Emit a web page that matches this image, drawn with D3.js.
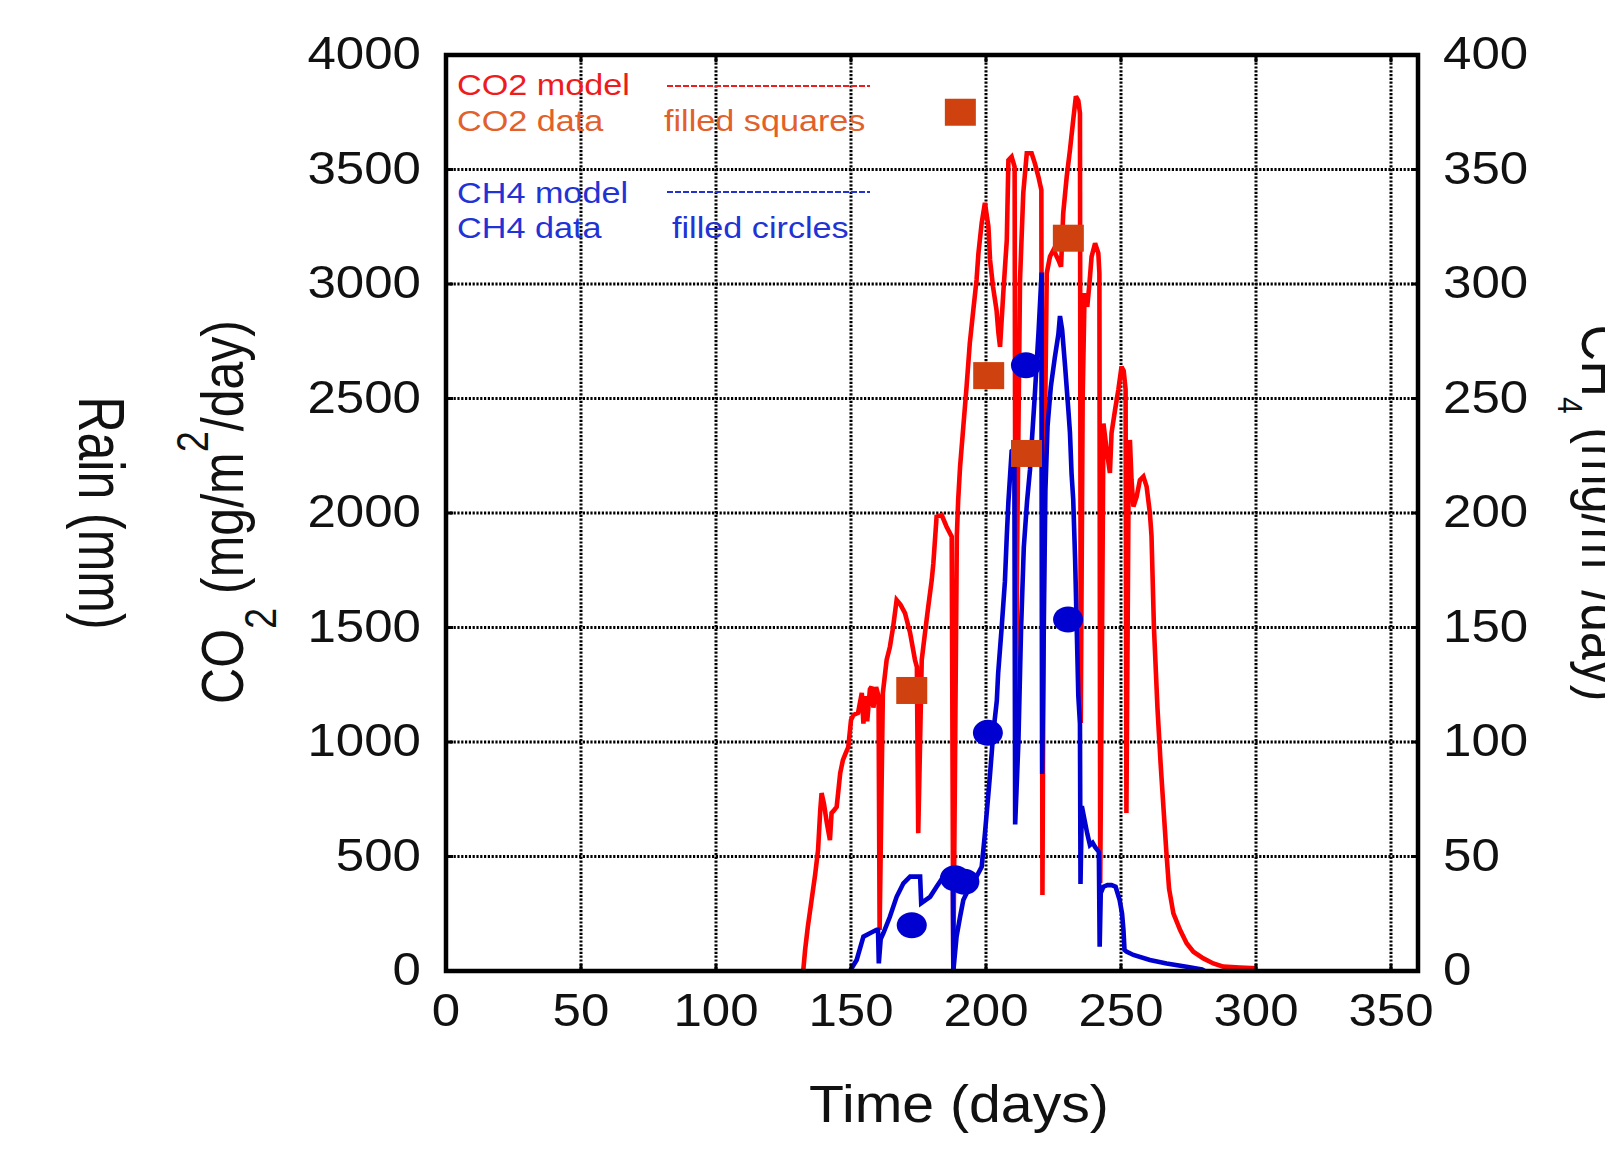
<!DOCTYPE html>
<html><head><meta charset="utf-8">
<script src="https://cdn.jsdelivr.net/npm/d3@7"></script>
<style>
html,body{margin:0;padding:0;background:#fff;}
svg{display:block;}
text{font-family:"Liberation Sans",Arial,Helvetica,sans-serif;}
</style></head>
<body>
<svg id="chart" width="1605" height="1149"></svg>
<script>
// ---- data ----
const xTicks = [0,50,100,150,200,250,300,350];
const yTicks = [0,500,1000,1500,2000,2500,3000,3500,4000];
const y2Ticks = [0,50,100,150,200,250,300,350,400];

// CO2 model (day, mg/m2/day)
const co2ModelDays = [132.3,133,134,135.4,136.7,137.8,138.6,139.1,140,141,142.2,142.8,143.6,144.7,146,147,148,149,150,150.9,152.6,154,154.6,155.2,156,157,157.6,158.3,159.3,160.2,160.6,161.8,163.2,164.4,165.6,166.9,168.3,170,171.9,173.7,174.4,174.9,176.2,177.4,178.6,179.9,180.5,181.7,183.6,185.4,187.3,187.9,189.2,189.7,190.4,191.6,192.8,194,195.3,196.5,197.2,198.4,199.6,200.9,201.5,202.6,203.9,204.6,205.2,206.4,207.7,208.3,209.5,210.6,211,211.5,212.6,213.8,215.1,216.9,218.1,219.4,220.5,220.9,221.5,222.5,223.7,225,226.8,227.8,228.6,229.9,231.1,232.3,233.3,234.2,234.8,235.1,235.8,236.5,237.5,238.3,239.1,240.4,241.6,242,242.3,243,243.5,244.7,245.9,246.5,247.8,249,250.2,251,251.7,252,252.8,253.3,253.9,254.6,255.8,257,258.3,259.5,260.7,261.3,262.2,263.5,264.7,265.8,266.8,267.8,269.4,271.9,274.3,276.8,280.5,284.2,287.9,294,300.5];
const co2ModelVals = [0,92,192,310,419,528,700,777,730,650,572,690,700,717,864,921,950,978,1096,1118,1127,1214,1080,1200,1090,1230,1241,1150,1240,1200,179,1214,1358,1415,1502,1620,1600,1563,1476,1358,1328,602,1358,1476,1590,1707,1780,1984,1991,1940,1897,0,1900,2057,2202,2377,2551,2742,2886,3018,3135,3266,3354,3250,3105,2988,2886,2786,2726,2960,3192,3541,3556,3512,733,1795,3018,3397,3571,3571,3527,3469,3410,332,2000,3047,3120,3149,3105,3076,3309,3469,3585,3716,3820,3800,3746,1083,2500,2960,2900,3000,3119,3178,3135,3047,384,1500,2391,2275,2175,2350,2450,2537,2639,2620,2540,690,2100,2319,2144,2028,2071,2144,2159,2115,1999,1900,1500,1150,900,700,520,360,252,179,121,84,55,33,19,15,12];

// CH4 model (day, mg/m2/day)
const ch4ModelDays = [149.6,152.1,154.6,157,159.5,160,160.3,161,162,164.4,166.9,169.4,171.9,175.6,176,179.3,181.7,184.2,187.7,187.9,189.1,190.4,191.6,194,196.5,198.4,199.6,200.9,201.5,202.7,204,204.5,205.8,207,207.7,208.3,209.5,210.5,210.8,212,213,214,215.2,216.3,218,219.5,220.6,220.8,221.5,222,222.8,224,225.5,226.8,227.4,228.2,229.3,230.5,231.1,231.7,232.3,233,233.6,234.2,234.8,235,235.5,236.5,237.5,238.5,239.5,240.5,241.8,242.1,242.5,243.5,245,246.5,248,249.5,250.4,250.9,251.3,252,254.6,260.7,266.9,274.3,280,281];
const ch4ModelVals = [0,4.8,15,16.5,18,18,3.3,14,16.6,23.7,32.4,38.3,41.2,41.2,29.6,32.4,36.8,41.2,44,0,15,23.7,31,36.8,41.2,45.5,60,77.6,86,104,118,130,150,170,190,205,227,228,64,100,150,185,205,219,250,280,305,86,160,210,238,255,268,278,286,280,264,245,235,217,206,180,150,120,108,38,72,66,60,55,56,54,52,10.6,34,36.8,37.5,37.5,36.8,31,25,18,9.2,8.5,7,4.8,3.3,1.9,0.7,0];

// CO2 data (filled squares)
const co2DataDays = [172.5,190.5,201,215,230.5];
const co2DataVals = [1225,3750,2600,2260,3200];
// CH4 data (filled circles)
const ch4DataDays = [172.5,188.5,192,200.7,214.8,230.4];
const ch4DataVals = [20,40.5,39,104,264.5,153.5];

const legendLabels = ["CO2 model","CO2 data","CH4 model","CH4 data"];
const legendNotes = ["","filled squares","","filled circles"];

// ---- drawing ----
const svg = d3.select("#chart");
const L = 446, R = 1418, T = 55, B = 971;
const x = d3.scaleLinear().domain([0,360]).range([L,R]);
const y = d3.scaleLinear().domain([0,4000]).range([B,T]);
const y2 = d3.scaleLinear().domain([0,400]).range([B,T]);

const FONT = 46, SX = 1.11;

// grid
const grid = svg.append("g");
grid.selectAll("line.vx").data(xTicks.filter(d=>d>0)).join("line")
  .attr("x1",d=>x(d)).attr("x2",d=>x(d)).attr("y1",T).attr("y2",B)
  .attr("stroke","#000").attr("stroke-width",3).attr("stroke-dasharray","2.2,1.6");
grid.selectAll("line.hy").data(yTicks.filter(d=>d>0&&d<4000)).join("line")
  .attr("x1",L).attr("x2",R).attr("y1",d=>y(d)).attr("y2",d=>y(d))
  .attr("stroke","#000").attr("stroke-width",3).attr("stroke-dasharray","2.2,1.6");

// lines
const co2Pts = co2ModelDays.map((d,i)=>[d,co2ModelVals[i]]);
const ch4Pts = ch4ModelDays.map((d,i)=>[d,ch4ModelVals[i]]);
svg.append("path").datum(co2Pts)
  .attr("d",d3.line().x(d=>x(d[0])).y(d=>y(d[1])))
  .attr("fill","none").attr("stroke","#ff0000").attr("stroke-width",4.6).attr("stroke-linejoin","miter").attr("stroke-miterlimit",3);
svg.append("path").datum(ch4Pts)
  .attr("d",d3.line().x(d=>x(d[0])).y(d=>y2(d[1])))
  .attr("fill","none").attr("stroke","#0000d0").attr("stroke-width",4.6).attr("stroke-linejoin","miter").attr("stroke-miterlimit",3);

// squares
svg.selectAll("rect.sq").data(co2DataDays.map((d,i)=>[d,co2DataVals[i]])).join("rect")
  .attr("x",d=>x(d[0])-15.5).attr("y",d=>y(d[1])-13.5)
  .attr("width",31).attr("height",27).attr("fill","#cf420f");
// circles
svg.selectAll("ellipse.ci").data(ch4DataDays.map((d,i)=>[d,ch4DataVals[i]])).join("ellipse")
  .attr("cx",d=>x(d[0])).attr("cy",d=>y2(d[1]))
  .attr("rx",15).attr("ry",13).attr("fill","#0000d0");

// ticks (small inward)
const tk = svg.append("g").attr("stroke","#000").attr("stroke-width",3);
xTicks.forEach(d=>{ tk.append("line").attr("x1",x(d)).attr("x2",x(d)).attr("y1",B).attr("y2",B-7);
  tk.append("line").attr("x1",x(d)).attr("x2",x(d)).attr("y1",T).attr("y2",T+7);});
yTicks.forEach(d=>{ tk.append("line").attr("x1",L).attr("x2",L+7).attr("y1",y(d)).attr("y2",y(d));});
y2Ticks.forEach(d=>{ tk.append("line").attr("x1",R).attr("x2",R-7).attr("y1",y2(d)).attr("y2",y2(d));});

// frame
svg.append("rect").attr("x",L).attr("y",T).attr("width",R-L).attr("height",B-T)
  .attr("fill","none").attr("stroke","#000").attr("stroke-width",4.5);

// tick labels
function label(g, txt, px, py, anchor, size, sx, color){
  return g.append("text").attr("transform",`translate(${px},${py}) scale(${sx},1)`)
    .attr("text-anchor",anchor).attr("font-size",size).attr("fill",color||"#111").text(txt);
}
const tl = svg.append("g");
yTicks.forEach(d=>label(tl, d, 421, y(d)+14, "end", FONT, SX));
y2Ticks.forEach(d=>label(tl, d, 1443, y2(d)+14, "start", FONT, SX));
xTicks.forEach(d=>label(tl, d, x(d), 1026, "middle", FONT, SX));

// axis titles
label(svg, "Time (days)", 959, 1122, "middle", 52, 1.1);

// left: CO2 (mg/m^2/day)
const co2T = svg.append("text").attr("transform","translate(243,512) rotate(-90) scale(1,1.18)")
  .attr("text-anchor","middle").attr("font-size",50).attr("fill","#111");
co2T.append("tspan").text("CO");
co2T.append("tspan").attr("font-size",38).attr("dy",28).text("2");
co2T.append("tspan").attr("dy",-28).text(" (mg/m");
co2T.append("tspan").attr("font-size",38).attr("dy",-30).text("2");
co2T.append("tspan").attr("dy",30).text("/day)");

// Rain (mm)
svg.append("text").attr("transform","translate(79,513) rotate(90) scale(1,1.3)")
  .attr("text-anchor","middle").attr("font-size",50).attr("fill","#111").text("Rain (mm)");

// right: CH4 (mg/m^2/day)
const ch4T = svg.append("text").attr("transform","translate(1582,513) rotate(90) scale(1,1.18)")
  .attr("text-anchor","middle").attr("font-size",50).attr("fill","#111");
ch4T.append("tspan").text("CH");
ch4T.append("tspan").attr("font-size",30).attr("dy",20).text("4");
ch4T.append("tspan").attr("dy",-20).text(" (mg/m");
ch4T.append("tspan").attr("font-size",38).attr("dy",-30).text("2");
ch4T.append("tspan").attr("dy",30).text("/day)");

// legend
const lg = svg.append("g");
const lgColors = ["#ee1c1c","#e2602a","#2233d6","#2233d6"];
const lgY = [95,131,203,238];
legendLabels.forEach((t,i)=>label(lg, t, 457, lgY[i], "start", 30, 1.14, lgColors[i]));
label(lg, legendNotes[1], 664, lgY[1], "start", 30, 1.14, lgColors[1]);
label(lg, legendNotes[3], 672, lgY[3], "start", 30, 1.14, lgColors[3]);
lg.append("line").attr("x1",667).attr("x2",870).attr("y1",86).attr("y2",86)
  .attr("stroke","#ee1c1c").attr("stroke-width",2).attr("stroke-dasharray","6,2");
lg.append("line").attr("x1",667).attr("x2",870).attr("y1",192).attr("y2",192)
  .attr("stroke","#2233d6").attr("stroke-width",2).attr("stroke-dasharray","6,2");
</script>
</body></html>
